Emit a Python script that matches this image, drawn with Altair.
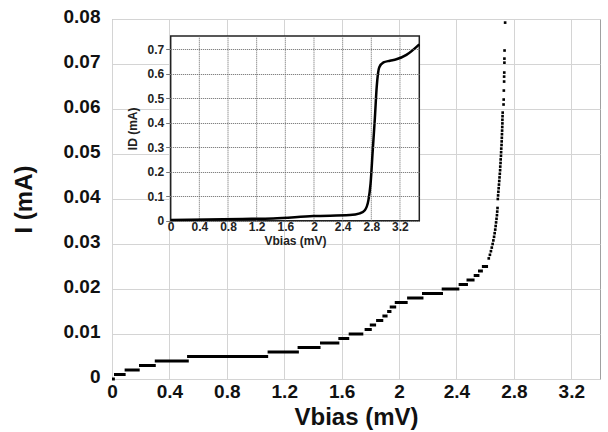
import altair as alt
import pandas as pd

FONT = "Liberation Sans"

# ---------------- main panel data (I vs Vbias) ----------------
step_start = [0.0, 0.014, 0.088, 0.188, 0.298, 0.523, 1.084, 1.293, 1.449, 1.577, 1.649,
              1.76, 1.796, 1.84, 1.884, 1.917, 1.935, 1.97, 2.056, 2.16, 2.297, 2.415,
              2.47, 2.52, 2.55, 2.577]
step_end = [0.02, 0.095, 0.193, 0.305, 0.535, 1.088, 1.302, 1.453, 1.584, 1.653, 1.751,
            1.81, 1.84, 1.89, 1.92, 1.947, 1.98, 2.06, 2.17, 2.306, 2.42, 2.48,
            2.526, 2.56, 2.584, 2.62]
step_i = [0.0, 0.001, 0.002, 0.003, 0.004, 0.005, 0.006, 0.007, 0.008, 0.009, 0.010,
          0.011, 0.012, 0.013, 0.014, 0.015, 0.016, 0.017, 0.018, 0.019, 0.020, 0.021,
          0.022, 0.023, 0.024, 0.025]

dots_v = [2.739, 2.735, 2.734, 2.734, 2.733, 2.732, 2.732, 2.730, 2.729, 2.728,
          2.722, 2.721, 2.720, 2.720, 2.719, 2.718, 2.717, 2.716, 2.715, 2.714,
          2.712, 2.711, 2.710, 2.708, 2.707, 2.705, 2.704, 2.702, 2.700, 2.698,
          2.696, 2.694, 2.692, 2.690, 2.688,
          2.686, 2.684, 2.682, 2.679, 2.676, 2.673, 2.670, 2.666, 2.662, 2.657,
          2.652, 2.646, 2.640, 2.633, 2.625]
dots_i = [0.0792, 0.0730, 0.0712, 0.0703, 0.0681, 0.0672, 0.0661, 0.0641, 0.0621, 0.0610,
          0.0592, 0.0584, 0.0576, 0.0568, 0.0560, 0.0552, 0.0544, 0.0536, 0.0528, 0.0520,
          0.0512, 0.0504, 0.0496, 0.0488, 0.0480, 0.0472, 0.0464, 0.0456, 0.0448, 0.0440,
          0.0432, 0.0424, 0.0416, 0.0408, 0.0400,
          0.0380, 0.0372, 0.0364, 0.0356, 0.0348, 0.0340, 0.0332, 0.0324, 0.0316, 0.0308,
          0.0300, 0.0292, 0.0284, 0.0276, 0.0268]

main_x_ticks = [0, 0.4, 0.8, 1.2, 1.6, 2, 2.4, 2.8, 3.2]
main_y_ticks = [0, 0.01, 0.02, 0.03, 0.04, 0.05, 0.06, 0.07, 0.08]
main_x_domain = [0, 3.4]
main_y_domain = [0, 0.08]

# ---------------- inset data (ID vs Vbias) ----------------
inset_v = [0, 0.5, 1.0, 1.43, 1.99, 2.5, 2.64, 2.71, 2.76, 2.79, 2.82, 2.85, 2.875,
           2.91, 2.97, 3.06, 3.15, 3.29, 3.47]
inset_i = [0.003, 0.005, 0.007, 0.009, 0.019, 0.023, 0.030, 0.043, 0.084, 0.152, 0.287,
           0.42, 0.544, 0.625, 0.646, 0.653, 0.659, 0.677, 0.72]
inset_x_ticks = [0, 0.4, 0.8, 1.2, 1.6, 2, 2.4, 2.8, 3.2]
inset_y_ticks = [0, 0.1, 0.2, 0.3, 0.4, 0.5, 0.6, 0.7]
inset_x_domain = [0, 3.47]
inset_y_domain = [0, 0.754]

W, H = 488, 360
inset_x_range = [58.7, 307.3]
inset_y_range = [201.7, 17.0]

steps = pd.DataFrame({"v0": step_start, "v1": step_end, "i": step_i})
dots = pd.DataFrame({"v": dots_v, "i": dots_i})
inset = pd.DataFrame({"v": inset_v, "i": inset_i})
frame = pd.DataFrame({"v0": [inset_x_domain[0]], "v1": [inset_x_domain[1]],
                      "i0": [inset_y_domain[0]], "i1": [inset_y_domain[1]]})
vgrid = pd.DataFrame({"v": inset_x_ticks[1:],
                      "i0": [inset_y_domain[0]] * (len(inset_x_ticks) - 1),
                      "i1": [inset_y_domain[1]] * (len(inset_x_ticks) - 1)})

mx = alt.Scale(domain=main_x_domain, nice=False, zero=False)
my = alt.Scale(domain=main_y_domain, nice=False, zero=False)

x_axis = alt.Axis(values=main_x_ticks, format="~g", title="Vbias (mV)", grid=True,
                  gridColor="#d4d4d4", gridWidth=1, domain=False, ticks=False,
                  labelFlush=False,
                  labelFont=FONT, labelFontSize=19, labelFontWeight="bold",
                  labelColor="#111", labelPadding=3,
                  titleFont=FONT, titleFontSize=24, titleFontWeight="bold",
                  titleColor="#111", titlePadding=4)
y_axis = alt.Axis(values=main_y_ticks, format="~g", title="I (mA)", grid=True,
                  gridColor="#d4d4d4", gridWidth=1, domain=False, ticks=False,
                  labelFlush=False, labelOffset=-3,
                  labelFont=FONT, labelFontSize=19, labelFontWeight="bold",
                  labelColor="#111", labelPadding=12,
                  titleFont=FONT, titleFontSize=24, titleFontWeight="bold",
                  titleColor="#111", titlePadding=27)

step_layer = alt.Chart(steps).mark_rule(color="black", strokeWidth=3).encode(
    x=alt.X("v0:Q", scale=mx, axis=x_axis),
    x2="v1:Q",
    y=alt.Y("i:Q", scale=my, axis=y_axis),
)
dot_layer = alt.Chart(dots).mark_square(color="black", size=7, opacity=1).encode(
    x=alt.X("v:Q", scale=mx),
    y=alt.Y("i:Q", scale=my),
)
main = alt.layer(step_layer, dot_layer)

ix = alt.Scale(domain=inset_x_domain, range=inset_x_range, nice=False, zero=False)
iy = alt.Scale(domain=inset_y_domain, range=inset_y_range, nice=False, zero=False)

ix_axis = alt.Axis(values=inset_x_ticks, format="~g", orient="bottom", offset=-(H - inset_y_range[0]),
                   title="Vbias (mV)", grid=False, domain=False, ticks=False, zindex=1,
                   labelFlush=False,
                   labelFont=FONT, labelFontSize=12, labelFontWeight="bold",
                   labelColor="#222", labelPadding=1,
                   titleFont=FONT, titleFontSize=12, titleFontWeight="bold",
                   titleColor="#222", titlePadding=3)
iy_axis = alt.Axis(values=inset_y_ticks, format="~g", orient="left", offset=-inset_x_range[0],
                   title="ID (mA)", grid=True, gridColor="#666", gridDash=[1, 1],
                   gridWidth=1, domain=False, ticks=True, tickSize=5, tickColor="#777",
                   zindex=1, labelFlush=False,
                   labelFont=FONT, labelFontSize=12, labelFontWeight="bold",
                   labelColor="#222", labelPadding=2,
                   titleFont=FONT, titleFontSize=12, titleFontWeight="bold",
                   titleColor="#222", titlePadding=8)

frame_layer = alt.Chart(frame).mark_rect(fill="white", stroke="#222", strokeWidth=1.5).encode(
    x=alt.X("v0:Q", scale=ix, axis=ix_axis),
    x2="v1:Q",
    y=alt.Y("i0:Q", scale=iy, axis=iy_axis),
    y2="i1:Q",
)
vgrid_layer = alt.Chart(vgrid).mark_rule(color="#666", strokeWidth=1, strokeDash=[1, 1]).encode(
    x=alt.X("v:Q", scale=ix),
    y=alt.Y("i0:Q", scale=iy),
    y2="i1:Q",
)
curve_layer = alt.Chart(inset).mark_line(color="black", strokeWidth=2.5,
                                         interpolate="monotone").encode(
    x=alt.X("v:Q", scale=ix),
    y=alt.Y("i:Q", scale=iy),
)
inset_chart = alt.layer(frame_layer, vgrid_layer, curve_layer)

chart = alt.layer(main, inset_chart).resolve_scale(
    x="independent", y="independent"
).properties(
    width=W, height=H,
    autosize="none",
    padding={"left": 112, "top": 19, "right": 8, "bottom": 53},
    background="white",
).configure_view(stroke="#a0a0a0", strokeWidth=1)

chart.save("out.html", embed_options={"renderer": "svg", "actions": False})
